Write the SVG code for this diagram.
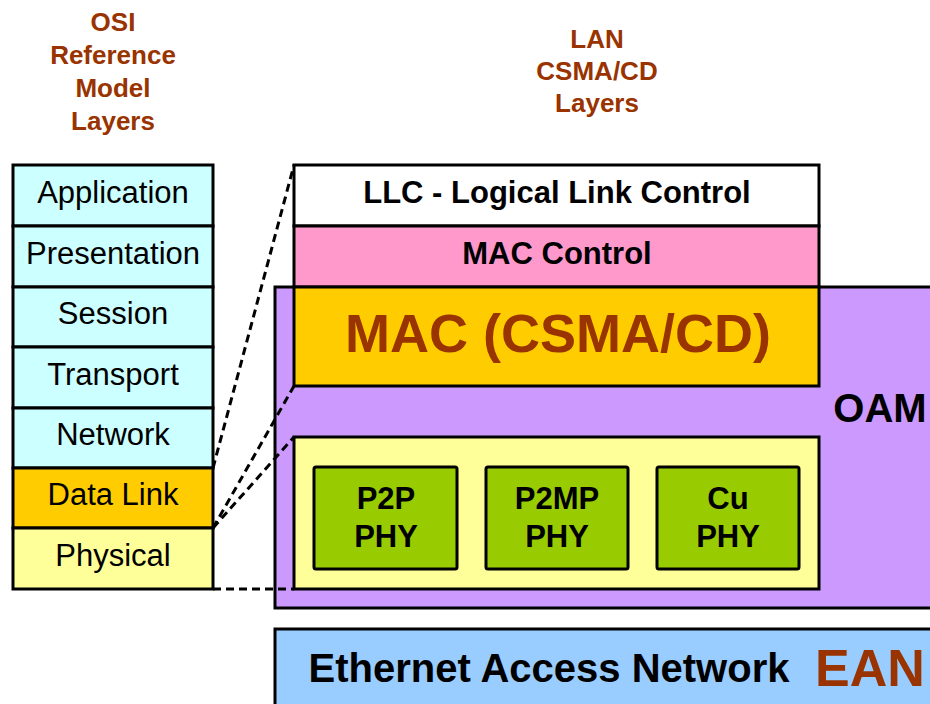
<svg xmlns="http://www.w3.org/2000/svg" width="930" height="704" viewBox="0 0 930 704">
<style>
.b{stroke:#000;stroke-width:3}
.osi{font-family:"Liberation Sans",Arial,sans-serif;font-size:31px;fill:#000;text-anchor:middle}
.bt{font-family:"Liberation Sans",Arial,sans-serif;font-weight:bold;fill:#000;text-anchor:middle}
.hd{font-family:"Liberation Sans",Arial,sans-serif;font-weight:bold;font-size:26px;fill:#993300;text-anchor:middle}
.dash{fill:none;stroke:#000;stroke-width:3;stroke-dasharray:8 5}
</style>
<rect width="930" height="704" fill="#fff"/>
<g id="osi-title">
<text class="hd" x="113" y="31">OSI</text>
<text class="hd" x="113" y="64">Reference</text>
<text class="hd" x="113" y="97">Model</text>
<text class="hd" x="113" y="130">Layers</text>
</g>
<g id="lan-title">
<text class="hd" x="597" y="48">LAN</text>
<text class="hd" x="597" y="80">CSMA/CD</text>
<text class="hd" x="597" y="112">Layers</text>
</g>
<g id="application"><rect class="b" x="13" y="165" width="200" height="61" fill="#CCFFFF"/><text class="osi" x="113" y="203">Application</text></g>
<g id="presentation"><rect class="b" x="13" y="226" width="200" height="61" fill="#CCFFFF"/><text class="osi" x="113" y="264">Presentation</text></g>
<g id="session"><rect class="b" x="13" y="287" width="200" height="60" fill="#CCFFFF"/><text class="osi" x="113" y="324">Session</text></g>
<g id="transport"><rect class="b" x="13" y="347" width="200" height="61" fill="#CCFFFF"/><text class="osi" x="113" y="385">Transport</text></g>
<g id="network"><rect class="b" x="13" y="408" width="200" height="60" fill="#CCFFFF"/><text class="osi" x="113" y="445">Network</text></g>
<g id="datalink"><rect class="b" x="13" y="468" width="200" height="60" fill="#FFCC00"/><text class="osi" x="113" y="505">Data Link</text></g>
<g id="physical"><rect class="b" x="13" y="528" width="200" height="61" fill="#FFFF99"/><text class="osi" x="113" y="566">Physical</text></g>
<g id="oam"><rect class="b" x="275" y="287" width="670" height="321" fill="#CC99FF"/><text class="bt" x="880" y="422" font-size="40">OAM</text></g>
<g id="llc"><rect class="b" x="294" y="165" width="525" height="61" fill="#fff"/><text class="bt" x="557" y="203" font-size="31">LLC - Logical Link Control</text></g>
<g id="maccontrol"><rect class="b" x="294" y="226" width="525" height="61" fill="#FF99CC"/><text class="bt" x="557" y="264" font-size="31">MAC Control</text></g>
<g id="mac"><rect class="b" x="294" y="287" width="525" height="99" fill="#FFCC00"/><text class="bt" x="558" y="352" font-size="54" style="fill:#993300">MAC (CSMA/CD)</text></g>
<g id="phy"><rect class="b" x="294" y="437" width="525" height="152" fill="#FFFF99"/></g>
<g id="p2p"><rect class="b" x="314" y="467" width="143" height="102" rx="2" fill="#99CC00"/><text class="bt" x="386" y="509" font-size="31">P2P</text><text class="bt" x="386" y="547" font-size="31">PHY</text></g>
<g id="p2mp"><rect class="b" x="486" y="467" width="142" height="102" rx="2" fill="#99CC00"/><text class="bt" x="557" y="509" font-size="31">P2MP</text><text class="bt" x="557" y="547" font-size="31">PHY</text></g>
<g id="cu"><rect class="b" x="657" y="467" width="142" height="102" rx="2" fill="#99CC00"/><text class="bt" x="728" y="509" font-size="31">Cu</text><text class="bt" x="728" y="547" font-size="31">PHY</text></g>
<g id="ean"><rect class="b" x="275" y="629" width="670" height="90" fill="#99CCFF"/><text class="bt" x="549" y="682" font-size="40">Ethernet Access Network</text><text class="bt" x="870" y="686" font-size="52" style="fill:#993300">EAN</text></g>
<g id="connectors">
<line class="dash" x1="213" y1="468" x2="294" y2="165"/>
<line class="dash" x1="213" y1="528" x2="294" y2="386"/>
<line class="dash" x1="213" y1="528" x2="294" y2="437"/>
<line class="dash" x1="213" y1="589" x2="294" y2="589"/>
</g>
</svg>
